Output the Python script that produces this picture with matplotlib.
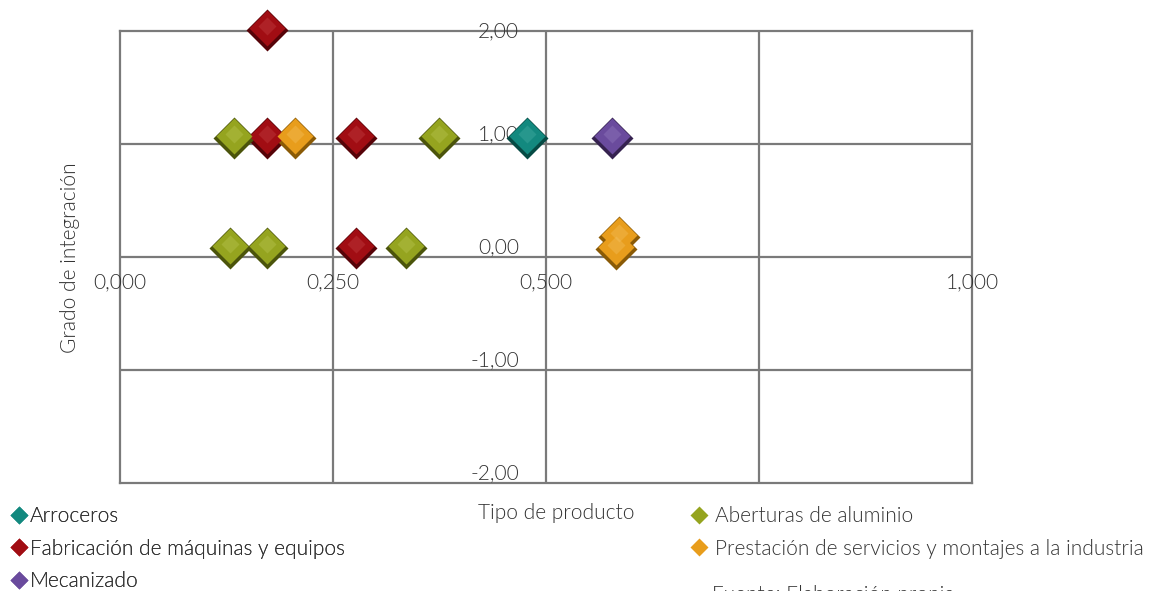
import matplotlib.pyplot as plt
import matplotlib.transforms as mtransforms
from matplotlib.lines import Line2D

plt.rcParams['font.family'] = ['Lato', 'DejaVu Sans']
plt.rcParams['font.weight'] = 300

# data (x = tipo de producto, y = grado de integracion)
arroceros_x = [0.478]
arroceros_y = [1.05]
fabricacion_x = [0.172, 0.172, 0.277, 0.277]
fabricacion_y = [2.01, 1.05, 1.05, 0.08]
mecanizado_x = [0.578]
mecanizado_y = [1.05]
aberturas_x = [0.134, 0.374, 0.129, 0.172, 0.336]
aberturas_y = [1.05, 1.05, 0.08, 0.08, 0.08]
prestacion_x = [0.205, 0.582, 0.586]
prestacion_y = [1.05, 0.07, 0.18]

series = [
    ('Arroceros', arroceros_x, arroceros_y, '#13897f', '#064a44', '#4fb3aa'),
    ('Fabricación de máquinas y equipos', fabricacion_x, fabricacion_y, '#a10d13', '#560308', '#c9474b'),
    ('Mecanizado', mecanizado_x, mecanizado_y, '#6a4b9d', '#35224f', '#9a82c4'),
    ('Aberturas de aluminio', aberturas_x, aberturas_y, '#95a41f', '#4b540b', '#c0cc5a'),
    ('Prestación de servicios y montajes a la industria', prestacion_x, prestacion_y, '#e89d1c', '#8a5a06', '#f5c566'),
]

x_ticks = [0.0, 0.25, 0.5, 1.0]
x_labels = ['0,000', '0,250', '0,500', '1,000']
y_ticks = [2, 1, 0, -1, -2]
y_labels = ['2,00', '1,00', '0,00', '-1,00', '-2,00']

grid_c = '#7a7a7a'
text_c = '#333333'
fs = 15

fig = plt.figure(figsize=(11.57, 5.91), dpi=100)
ax = fig.add_axes([120 / 1157, 108 / 591, 852 / 1157, 452 / 591])
ax.set_xlim(0, 1)
ax.set_ylim(-2, 2)
ax.set_xticks([0.25, 0.5, 0.75])
ax.set_yticks([-1, 0, 1])
ax.grid(True, color=grid_c, linewidth=1.6)
ax.tick_params(length=0, labelbottom=False, labelleft=False)
for s in ax.spines.values():
    s.set_color(grid_c)
    s.set_linewidth(1.6)

# tick labels sit on the crossing axes (x = 0.5, y = 0)
for v, lab in zip(y_ticks, y_labels):
    dy = 0 if v == max(y_ticks) else 10
    off = mtransforms.offset_copy(ax.transData, fig=fig, x=-27, y=dy, units='dots')
    ax.text(0.5, v, lab, transform=off, ha='right', va='center', fontsize=fs,
            color=text_c, clip_on=False, zorder=5)
for v, lab in zip(x_ticks, x_labels):
    off = mtransforms.offset_copy(ax.transData, fig=fig, x=0, y=-25, units='dots')
    ax.text(v, 0, lab, transform=off, ha='center', va='center', fontsize=fs,
            color=text_c, clip_on=False, zorder=5)

# bevelled diamonds: dark base, mid face, light top
for name, xs, ys, c, dark, light in series:
    ax.plot(xs, ys, 'D', ms=21.5, color=dark, mec='none', clip_on=False, zorder=6)
    up = mtransforms.offset_copy(ax.transData, fig=fig, x=0, y=2, units='dots')
    ax.plot(xs, ys, 'D', ms=18.5, color=c, mec='none', transform=up, clip_on=False, zorder=7)
    up2 = mtransforms.offset_copy(ax.transData, fig=fig, x=0, y=4, units='dots')
    ax.plot(xs, ys, 'D', ms=9, color=light, alpha=0.35, mec='none', transform=up2,
            clip_on=False, zorder=8)

fig.text(70 / 1157, 1 - 258 / 591, 'Grado de integración', rotation=90, ha='center',
         va='center', fontsize=fs, color=text_c)
fig.text(556 / 1157, 1 - 513 / 591, 'Tipo de producto', ha='center', va='center',
         fontsize=fs, color=text_c)

def handles(items):
    return [Line2D([], [], marker='D', ls='none', ms=9, color=it[3], mec='none')
            for it in items]

leg1 = fig.legend(handles(series[:3]), [s[0] for s in series[:3]], loc='upper left',
                  bbox_to_anchor=(9 / 1157, 1 - 502 / 591), frameon=False, fontsize=fs,
                  handlelength=0.6, handletextpad=0.2, labelspacing=0.6,
                  borderaxespad=0, borderpad=0.2, labelcolor=text_c)
leg2 = fig.legend(handles(series[3:]), [s[0] for s in series[3:]], loc='upper left',
                  bbox_to_anchor=(689 / 1157, 1 - 502 / 591), frameon=False, fontsize=fs,
                  handlelength=0.6, handletextpad=0.45, labelspacing=0.6,
                  borderaxespad=0, borderpad=0.2, labelcolor=text_c)
fig.add_artist(leg1)

fig.text(712 / 1157, 1 - 601 / 591, 'Fuente: Elaboración propia', ha='left', va='baseline',
         fontsize=fs, color=text_c)

fig.savefig('out.png', dpi=100)
